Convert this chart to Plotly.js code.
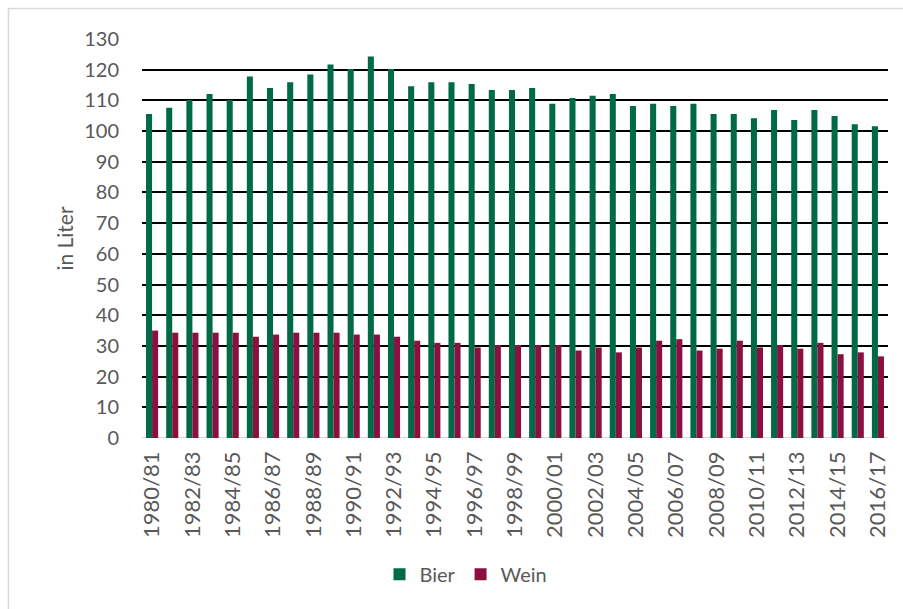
<!DOCTYPE html>
<html>
<head>
<meta charset="utf-8">
<script src="https://cdn.plot.ly/plotly-3.0.1.min.js"></script>
<style>
  html, body { margin: 0; padding: 0; background: #ffffff; }
  #chart { width: 903px; height: 609px; }
</style>
</head>
<body>
<div id="chart"></div>
<script>
// Pro-Kopf-Verbrauch von Bier und Wein (in Liter), Wirtschaftsjahre 1980/81 bis 2016/17
const seasons = [
  "1980/81", "1981/82", "1982/83", "1983/84", "1984/85", "1985/86", "1986/87",
  "1987/88", "1988/89", "1989/90", "1990/91", "1991/92", "1992/93", "1993/94",
  "1994/95", "1995/96", "1996/97", "1997/98", "1998/99", "1999/00", "2000/01",
  "2001/02", "2002/03", "2003/04", "2004/05", "2005/06", "2006/07", "2007/08",
  "2008/09", "2009/10", "2010/11", "2011/12", "2012/13", "2013/14", "2014/15",
  "2015/16", "2016/17"
];

const bier = [
  105.6, 107.6, 110.1, 112.1, 110.1, 117.8, 114.0, 115.9, 118.4, 121.7,
  120.2, 124.3, 120.2, 114.6, 115.9, 115.9, 115.3, 113.4, 113.4, 114.0,
  108.9, 110.8, 111.5, 112.1, 108.2, 108.9, 108.2, 108.9, 105.6, 105.6,
  104.2, 106.9, 103.6, 106.9, 104.9, 102.2, 101.6
];

const wein = [
  35.0, 34.3, 34.3, 34.3, 34.3, 33.0, 33.7, 34.3, 34.3, 34.3,
  33.7, 33.7, 33.0, 31.7, 31.0, 31.0, 29.5, 30.3, 30.3, 30.3,
  30.3, 28.5, 29.5, 27.9, 29.5, 31.7, 32.2, 28.5, 29.1, 31.7,
  29.5, 30.3, 29.1, 31.0, 27.3, 27.9, 26.6
];

// every second season is labelled on the category axis
const tickLabels = seasons.filter((s, i) => i % 2 === 0);

const family = "Lato, 'Open Sans', sans-serif";
const grey = "#595959";
const textFont = { family: family, size: 20, color: grey };

const traces = [
  { type: "bar", name: "Bier", x: seasons, y: bier, marker: { color: "#006a47" } },
  { type: "bar", name: "Wein", x: seasons, y: wein, marker: { color: "#8b0f3f" } }
];

const plotLeft = 142, plotRight = 888, plotTop = 39, plotBottom = 438.5;
const pw = plotRight - plotLeft, ph = plotBottom - plotTop;

const layout = {
  width: 903,
  height: 609,
  margin: { l: plotLeft, r: 903 - plotRight, t: plotTop, b: 609 - plotBottom, pad: 0 },
  paper_bgcolor: "#ffffff",
  plot_bgcolor: "#ffffff",
  barmode: "group",
  bargap: 0.4,
  bargroupgap: 0,
  font: textFont,
  showlegend: true,
  legend: {
    orientation: "h",
    x: (466 - plotLeft) / pw,
    xanchor: "center",
    y: (plotBottom - 575) / ph,
    yanchor: "middle",
    font: { family: family, size: 20, color: grey },
    itemwidth: 30,
    traceorder: "normal"
  },
  xaxis: {
    type: "category",
    tickmode: "array",
    tickvals: tickLabels,
    ticktext: tickLabels,
    tickangle: -90,
    tickfont: { family: family, size: 22, color: grey },
    ticks: "",
    ticklabelstandoff: 8,
    showgrid: false,
    showline: false,
    zeroline: false,
    automargin: false
  },
  yaxis: {
    range: [0, 130],
    dtick: 10,
    tick0: 0,
    tickfont: textFont,
    ticks: "",
    ticklabelstandoff: 22,
    showgrid: true,
    gridcolor: "#000000",
    gridwidth: 2,
    zeroline: false,
    showline: false,
    automargin: false,
    title: { text: "in Liter", font: { family: family, size: 21, color: grey }, standoff: 4 }
  },
  shapes: [
    // baseline of the value axis
    { type: "line", xref: "paper", yref: "y", x0: 0, x1: 1, y0: 0, y1: 0,
      line: { color: "#d9d9d9", width: 2 }, layer: "below" },
    // outer frame of the chart area
    { type: "rect", xref: "paper", yref: "paper",
      x0: (8.5 - plotLeft) / pw, x1: (915 - plotLeft) / pw,
      y0: (plotBottom - 620) / ph, y1: (plotBottom - 8.5) / ph,
      line: { color: "#d9d9d9", width: 1.5 }, fillcolor: "rgba(0,0,0,0)" }
  ]
};

Plotly.newPlot("chart", traces, layout, { staticPlot: true, displayModeBar: false });
</script>
</body>
</html>
